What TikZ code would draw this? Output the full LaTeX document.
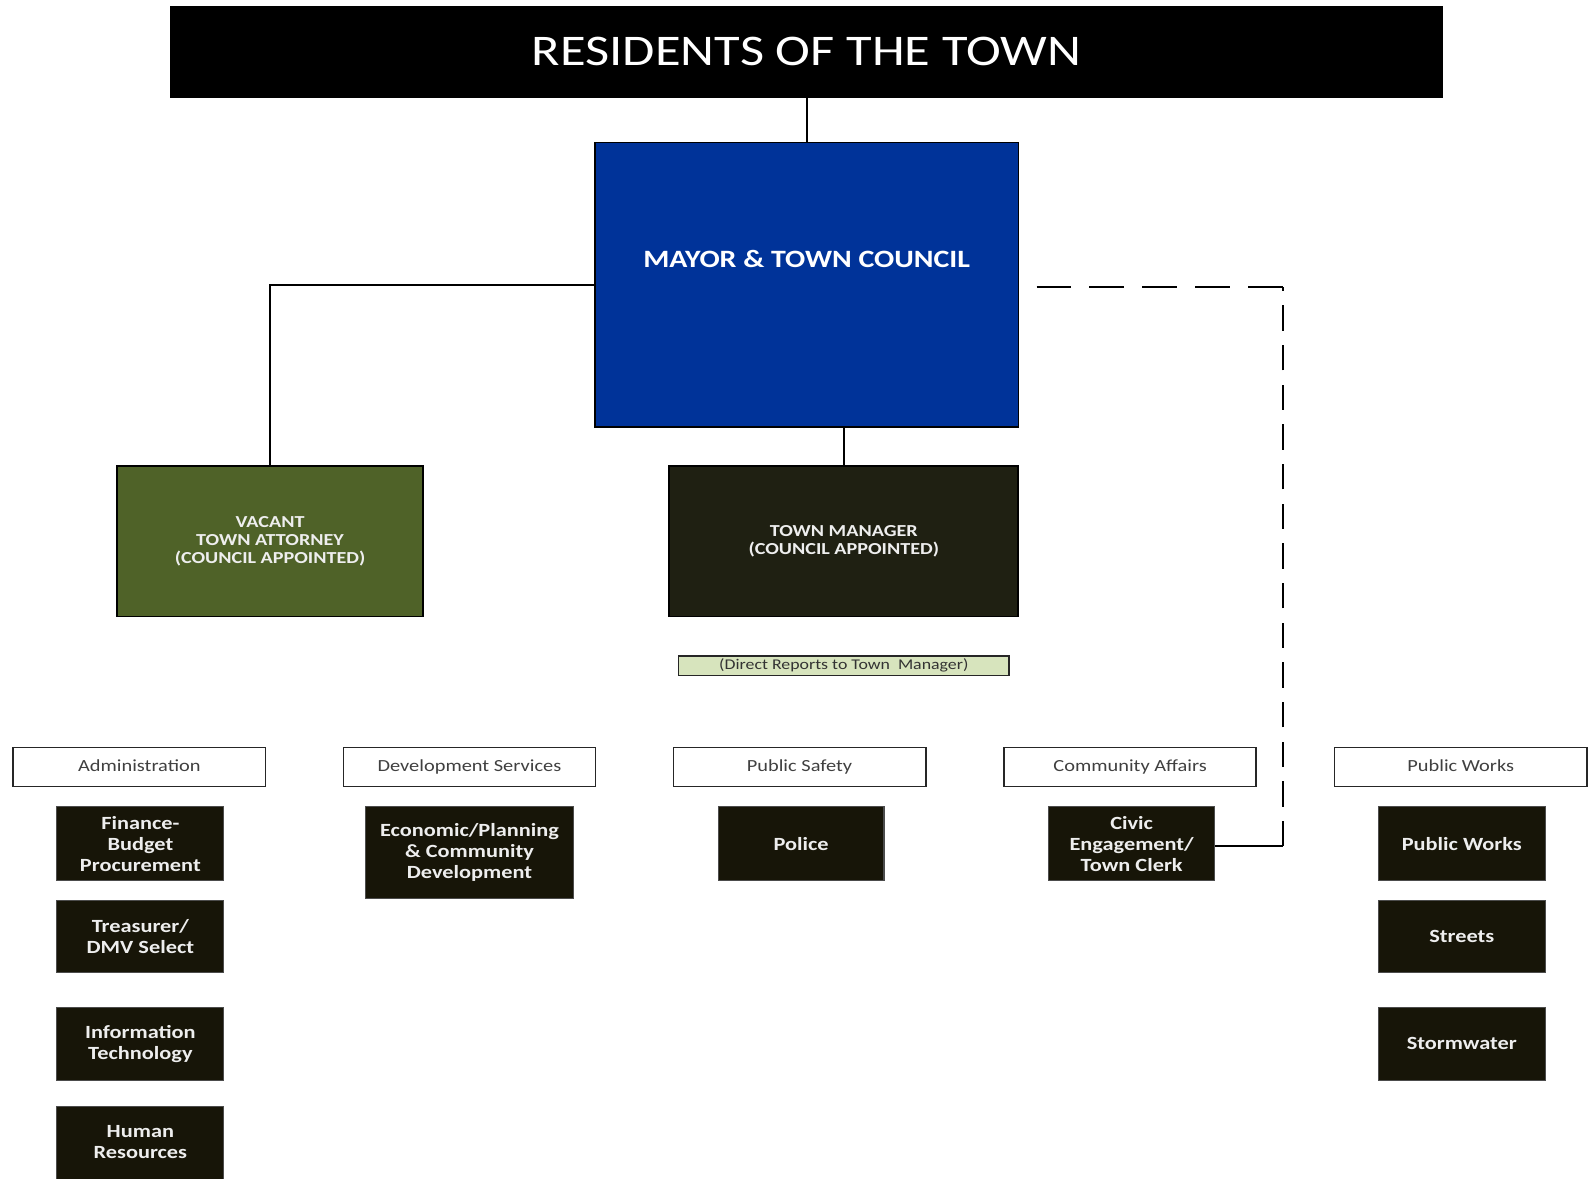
\documentclass[tikz,border=0pt]{standalone}
\usepackage{fontspec}
\setmainfont{Carlito}[FakeStretch=1.2]
\definecolor{mayorblue}{RGB}{0,51,153}
\definecolor{olivebox}{RGB}{79,98,40}
\definecolor{mgrdark}{RGB}{31,32,18}
\definecolor{deptdark}{RGB}{23,21,8}
\definecolor{paleGreen}{RGB}{215,228,189}
\definecolor{hdrtext}{RGB}{64,64,64}
\definecolor{boxtext}{RGB}{238,238,238}
\tikzset{
  basebox/.style={rectangle, inner sep=0pt, outer sep=0pt, align=center},
  topbox/.style={basebox, fill=black, draw=black, line width=1pt, text=white,
     font=\fontsize{43}{50}\selectfont},
  mayorbox/.style={basebox, fill=mayorblue, draw=black, line width=1.5pt, text=white,
     font=\bfseries\fontsize{24.5}{28}\selectfont, text height=16pt, text depth=50pt},
  attybox/.style={basebox, fill=olivebox, draw=black, line width=1.8pt, text=boxtext,
     font=\bfseries\fontsize{16.5}{18}\selectfont},
  mgrbox/.style={basebox, fill=mgrdark, draw=black, line width=1.8pt, text=boxtext,
     font=\bfseries\fontsize{16.5}{18}\selectfont},
  notebox/.style={basebox, fill=paleGreen, draw=black!85, line width=1.6pt, text=black!80,
     font=\fontsize{14.6}{15}\selectfont},
  hdrbox/.style={basebox, fill=white, draw=black!85, line width=1.6pt, text=hdrtext,
     minimum width=248pt, minimum height=38pt, text height=11pt, text depth=2pt,
     font=\fontsize{16.7}{19}\selectfont},
  deptbox/.style={basebox, fill=deptdark, draw=black!70, line width=1pt, text=boxtext,
     font=\bfseries\fontsize{18.3}{20.7}\selectfont},
  link/.style={draw=black, line width=1.8pt},
  dotlinkh/.style={draw=black, line width=1.8pt, dash pattern=on 34pt off 18pt, dash phase=34pt},
  dotlinkv/.style={draw=black, line width=1.8pt, dash pattern=on 25pt off 14pt},
}
\begin{document}
\begin{tikzpicture}[x=1pt,y=-1pt]
\useasboundingbox (0,0) rectangle (1566,1159);
\fill[white] (0,0) rectangle (1566,1159);
\clip (0,0) rectangle (1566,1159);

% top levels
\node[topbox, minimum width=1250pt, minimum height=90pt] (res) at (793,51) {RESIDENTS OF THE TOWN};
\node[mayorbox, minimum width=416pt, minimum height=280pt] (mayor) at (793,280) {MAYOR \& TOWN COUNCIL};
\node[attybox, minimum width=301pt, minimum height=148pt] (atty) at (265.5,532)
  {VACANT\\TOWN ATTORNEY\\(COUNCIL APPOINTED)};
\node[mgrbox, minimum width=343pt, minimum height=148pt] (mgr) at (829.5,532)
  {TOWN MANAGER\\(COUNCIL APPOINTED)};
\node[notebox, minimum width=325pt, minimum height=19pt] (note) at (829.5,654.5)
  {(Direct Reports to Town\ \ Manager)};

% headers
\node[hdrbox] (hadm) at (137,754) {Administration};
\node[hdrbox] (hdev) at (461.5,754) {Development Services};
\node[hdrbox] (hps) at (786,754) {Public Safety};
\node[hdrbox] (hca) at (1111,754) {Community Affairs};
\node[hdrbox] (hpw) at (1436,754) {Public Works};

% administration
\node[deptbox, minimum width=164pt, minimum height=73pt] (fin) at (138,829.5) {Finance-\\Budget\\Procurement};
\node[deptbox, minimum width=164pt, minimum height=71pt] (tre) at (138,920.5) {Treasurer/\\DMV Select};
\node[deptbox, minimum width=164pt, minimum height=72pt] (it) at (138,1026) {Information\\Technology};
\node[deptbox, minimum width=164pt, minimum height=90pt] (hr) at (138,1133) {Human\\Resources\\[0pt]};

% development
\node[deptbox, minimum width=205pt, minimum height=90pt] (eco) at (461.5,838) {Economic/Planning\\\& Community\\Development};

% public safety
\node[deptbox, minimum width=163pt, minimum height=73pt] (pol) at (787.5,829.5) {Police};

% community affairs
\node[deptbox, minimum width=163pt, minimum height=73pt] (civ) at (1112.5,829.5) {Civic\\Engagement/\\Town Clerk};

% public works
\node[deptbox, minimum width=164pt, minimum height=73pt] (pw) at (1437,829.5) {Public Works};
\node[deptbox, minimum width=164pt, minimum height=71pt] (str) at (1437,920.5) {Streets};
\node[deptbox, minimum width=164pt, minimum height=72pt] (sto) at (1437,1026) {Stormwater};

% connectors
\draw[link] (res.south) -- (mayor.north);
\draw[link] (mayor.west) -| (atty.north);
\draw[link] (mayor.south -| mgr.north) -- (mgr.north);
\coordinate (dc) at (1261,282);
\coordinate (dv) at (1261,832);
\draw[dotlinkh] (mayor.east |- dc) -- (dc);
\draw[dotlinkv] (dv) -- (dc);
\draw[link] (dv) -- (civ.east |- dv);
\end{tikzpicture}
\end{document}
